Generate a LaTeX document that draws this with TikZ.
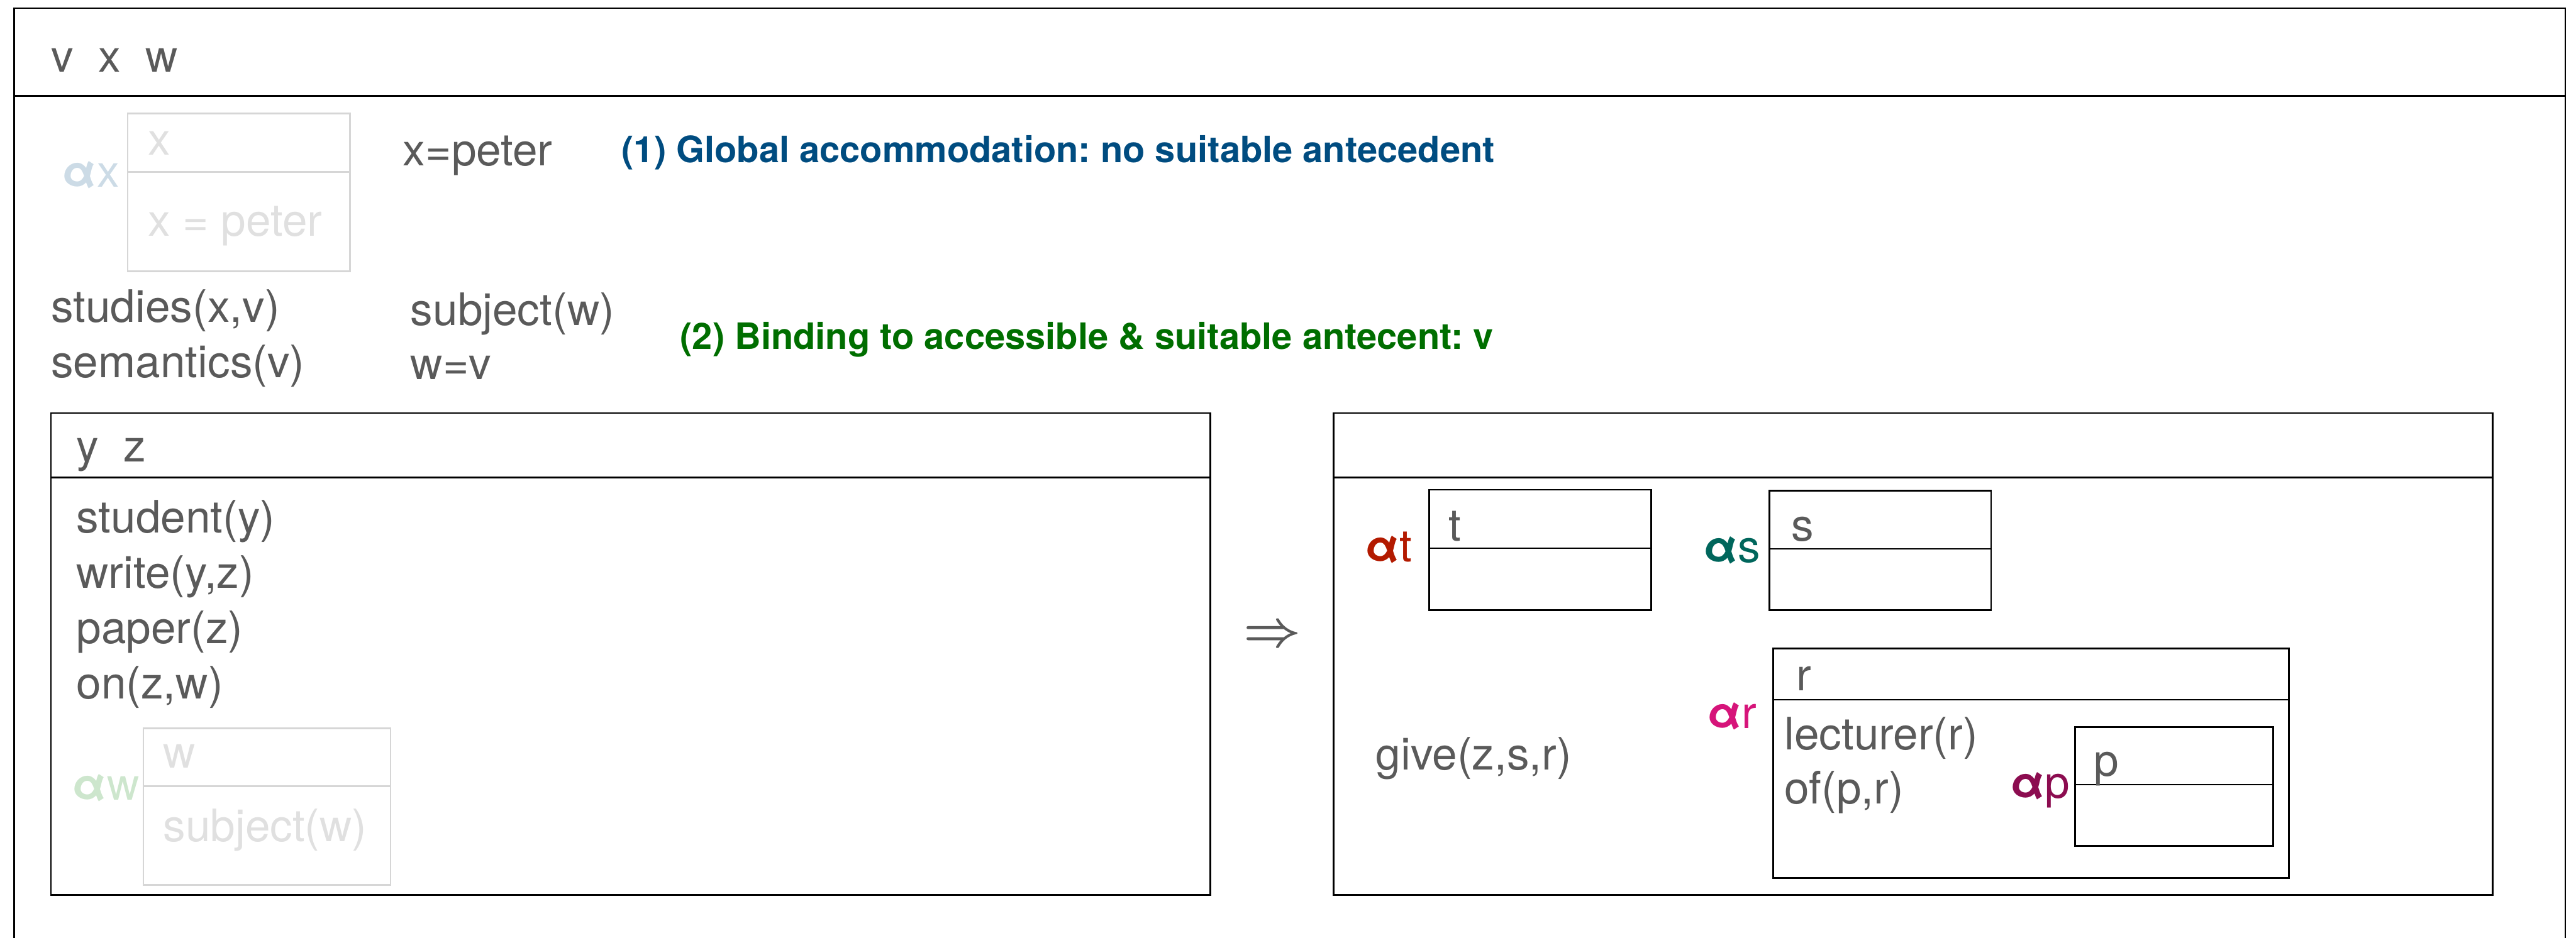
\documentclass[tikz,border=0pt]{standalone}
\usepackage{bm}
\usepackage{fontspec}
\setmainfont{TeX Gyre Heros}
\frenchspacing
\definecolor{ink}{HTML}{5A5A5A}
\definecolor{ghosttext}{HTML}{E0E0E0}
\definecolor{ghostline}{HTML}{D6D6D6}
\definecolor{alx}{HTML}{CCDBE6}
\definecolor{alw}{HTML}{CDE6CD}
\definecolor{alt}{HTML}{B31A00}
\definecolor{als}{HTML}{00665C}
\definecolor{alr}{HTML}{D6147A}
\definecolor{alp}{HTML}{8C0C50}
\definecolor{noteblue}{HTML}{004C80}
\definecolor{notegreen}{HTML}{006E00}
\newcommand{\alf}{\textbf{α}}
\begin{document}
\begin{tikzpicture}[x=0.02cm, y=-0.02cm,
  txt/.style={anchor=base west, inner sep=0pt, text=ink, font=\fontsize{15.5}{18}\selectfont},
  ghost/.style={txt, text=ghosttext},
  note/.style={anchor=base west, inner sep=0pt, font=\bfseries\fontsize{12.6}{15}\selectfont},
  drs/.style={draw=black, line width=0.6pt},
  ghostdrs/.style={draw=ghostline, line width=0.6pt}]
\useasboundingbox (0,0) rectangle (1568,571);
\draw[drs] (8.6,5) rectangle (1561.5,600);
\draw[drs] (8.6,58.5) -- (1561.5,58.5);
\node[txt] (vxw) at (30.8,44) {v\ \ x\ \ w};
\draw[ghostdrs] (77.7,69.2) rectangle (212.9,165.3);
\draw[ghostdrs] (77.7,104.8) -- (212.9,104.8);
\node[ghost] (xref) at (89.7,94.2) {x};
\node[ghost] (xcond) at (89.7,143.7) {x = peter};
\node[txt, text=alx] (alphax) at (37.5,113.7) {\alf x};
\node[txt] (xpeter) at (245,100.8) {x=peter};
\node[note, text=noteblue] (global) at (378.1,99.1) {(1) Global accommodation: no suitable antecedent};
\node[txt] (studies) at (30.8,196) {studies(x,v)};
\node[txt] (semantics) at (30.8,229.7) {semantics(v)};
\node[txt] (subject) at (249.6,198) {subject(w)};
\node[txt] (weqv) at (249.6,231) {w=v};
\node[note, text=notegreen] (binding) at (413.7,212.6) {(2) Binding to accessible \& suitable antecent: v};
\draw[drs] (31,251.5) rectangle (736.6,545);
\draw[drs] (31,290.8) -- (736.6,290.8);
\node[txt] (yz) at (46.2,281.1) {y\ \ z};
\node[txt] (student) at (46.2,324.6) {student(y)};
\node[txt] (write) at (46.2,358.3) {write(y,z)};
\node[txt] (paper) at (46.2,391.9) {paper(z)};
\node[txt] (on) at (46.2,425.5) {on(z,w)};
\draw[ghostdrs] (87.3,443.5) rectangle (237.7,538.9);
\draw[ghostdrs] (87.3,478.8) -- (237.7,478.8);
\node[ghost] (wref) at (99,467.6) {w};
\node[ghost] (wcond) at (99,512.5) {subject(w)};
\node[txt, text=alw] (alphaw) at (43.6,487.3) {\alf w};
\node[text=ink, inner sep=0pt, font=\fontsize{18}{20}\selectfont] (impl) at (774.4,387.3) {$\bm{\Rightarrow}$};
\draw[drs] (811.7,251.5) rectangle (1517.3,545);
\draw[drs] (811.7,290.8) -- (1517.3,290.8);
\draw[drs] (869.8,298.2) rectangle (1005,371.5);
\draw[drs] (869.8,333.8) -- (1005,333.8);
\node[txt] (tref) at (881.5,329.4) {t};
\node[txt, text=alt] (alphat) at (830.5,341.9) {\alf t};
\draw[drs] (1077,298.7) rectangle (1212,371.5);
\draw[drs] (1077,334.2) -- (1212,334.2);
\node[txt] (sref) at (1090.2,329.4) {s};
\node[txt, text=als] (alphas) at (1036.5,342.3) {\alf s};
\node[txt] (give) at (837.2,468.7) {give(z,s,r)};
\draw[drs] (1079.2,394.8) rectangle (1393.2,534.7);
\draw[drs] (1079.2,426.1) -- (1393.2,426.1);
\node[txt] (rref) at (1093,420.4) {r};
\node[txt, text=alr] (alphar) at (1038.7,443.5) {\alf r};
\node[txt] (lecturer) at (1085.8,456.6) {lecturer(r)};
\node[txt] (of) at (1085.8,489.5) {of(p,r)};
\draw[drs] (1263,442.6) rectangle (1383.8,515.2);
\draw[drs] (1263,477.7) -- (1383.8,477.7);
\node[txt] (pref) at (1274.1,472.6) {p};
\node[txt, text=alp] (alphap) at (1223.2,485.8) {\alf p};
\end{tikzpicture}
\end{document}
